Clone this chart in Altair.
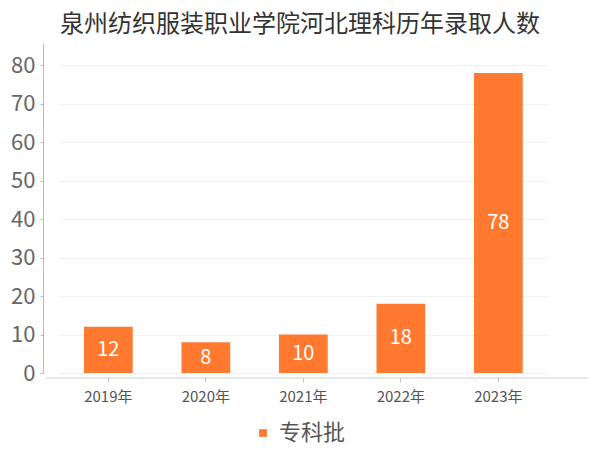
import altair as alt
import pandas as pd

years = ["2019年", "2020年", "2021年", "2022年", "2023年"]
values = [12, 8, 10, 18, 78]
series = ["专科批"] * 5

df = pd.DataFrame({"year": years, "value": values, "series": series})

FONT = "Noto Sans CJK SC"
BAR = "#FF7A30"
W, H = 542, 330

base = alt.Chart(df)

bars = base.mark_bar(color=BAR).encode(
    x=alt.X("year:N", sort=years,
            scale=alt.Scale(range=[13.6, 501.1], paddingInner=0.5, paddingOuter=0.25),
            axis=alt.Axis(title=None, domain=False, labelAngle=0, labelFontSize=15,
                          labelColor="#555555", labelFont=FONT, tickColor="#bbbbbb",
                          tickSize=4, offset=5, labelPadding=7, grid=False)),
    y=alt.Y("value:Q", scale=alt.Scale(domain=[0, 85.8], nice=False),
            axis=alt.Axis(title=None, values=[0, 10, 20, 30, 40, 50, 60, 70, 80],
                          labelFontSize=22, labelColor="#666666", labelFont=FONT,
                          domainColor="#bbbbbb", tickColor="#bbbbbb", tickSize=3,
                          offset=3, labelPadding=5, gridColor="#f2f2f2", grid=True)),
    color=alt.Color("series:N", scale=alt.Scale(range=[BAR]),
                    legend=alt.Legend(title=None, orient="none", legendX=206, legendY=49 + H,
                                      symbolType="square", symbolSize=60, labelFontSize=22,
                                      labelColor="#555555", labelFont=FONT, symbolStrokeWidth=0,
                                      labelOffset=5)),
)

labels = base.transform_calculate(mid="datum.value / 2").mark_text(
    color="white", fontSize=20, font=FONT, baseline="middle", align="center"
).encode(
    x=alt.X("year:N", sort=years),
    y=alt.Y("mid:Q"),
    text=alt.Text("value:Q"),
)

axis_line = alt.Chart(pd.DataFrame({"a": [0]})).mark_rule(color="#cccccc", strokeWidth=1).encode(
    x=alt.value(0), x2=alt.value(W), y=alt.value(H + 5)
)

chart = alt.layer(bars, labels, axis_line).properties(
    width=W, height=H,
    title=alt.Title("泉州纺织服装职业学院河北理科历年录取人数", fontSize=24, font=FONT,
                    color="#333333", fontWeight="normal", anchor="middle", dx=-17, offset=6),
    autosize=alt.AutoSizeParams(type="none"),
    padding={"left": 38, "top": 35, "right": 2, "bottom": 77},
).configure_view(stroke=None)

chart.save("out.html", embed_options={"renderer": "svg", "actions": False})
